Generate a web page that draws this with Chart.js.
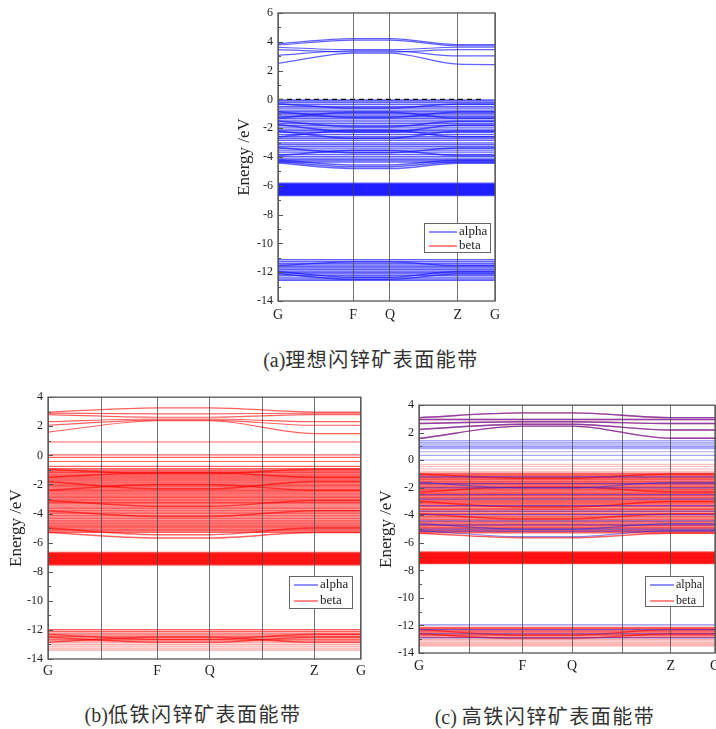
<!DOCTYPE html>
<html>
<head>
<meta charset="utf-8">
<script src="https://cdn.jsdelivr.net/npm/chart.js"></script>
<style>
  body { margin: 0; background: #fff; width: 716px; height: 729px; overflow: hidden; position: relative; }
  .box { position: absolute; }
  .cap { position: absolute; transform: translate(-50%, -50%); white-space: nowrap;
         font-family: "Noto Sans CJK SC", sans-serif; font-size: 20px; color: #333; letter-spacing: 1.5px; }
  .cap span { font-family: "Liberation Serif", serif; letter-spacing: 0; }
</style>
</head>
<body>
<div class="box" style="left:228px;top:0;width:300px;height:335px"><canvas id="bandA" width="300" height="335"></canvas></div>
<div class="box" style="left:0;top:385px;width:370px;height:300px"><canvas id="bandB" width="370" height="300"></canvas></div>
<div class="box" style="left:370px;top:393px;width:356px;height:290px"><canvas id="bandC" width="356" height="290"></canvas></div>

<div class="cap" style="left:371px;top:358px"><span>(a)</span>理想闪锌矿表面能带</div>
<div class="cap" style="left:193px;top:713px"><span>(b)</span>低铁闪锌矿表面能带</div>
<div class="cap" style="left:545px;top:715px"><span>(c) </span>高铁闪锌矿表面能带</div>

<script>
// k-path (x axis) and labels
const kLabelsA = ['G', 'F', 'Q', 'Z', 'G'];
const kPosA = [0, 0.346, 0.516, 0.829, 1];
const kLabelsBC = ['G', '', 'F', 'Q', '', 'Z', 'G'];
const kPosBC = [0, 0.171, 0.349, 0.517, 0.686, 0.851, 1];
const symPosBC = [0, 0.349, 0.517, 0.851, 1];   // G F Q Z G, where bands are read
const seriesNames = ['alpha', 'beta'];
const fermiA = 0;

// ---- (a) ideal surface, alpha only ----
// dispersive bands: energy at G, F, Q, Z, G
const condA = [
  [3.87, 4.22, 4.22, 3.8, 3.8],
  [3.78, 4.12, 4.12, 3.72, 3.72],
  [3.62, 3.45, 3.45, 3.62, 3.62],
  [3.45, 3.3, 3.3, 3.45, 3.45],
  [3.06, 3.38, 3.38, 3.02, 3.02],
  [2.5, 3.22, 3.22, 2.45, 2.42]
];
const valBandsA = [
  [-0.3, -0.6, -0.6, -0.32, -0.32],
  [-0.85, -1.25, -1.25, -0.88, -0.88],
  [-1.3, -0.9, -0.9, -1.3, -1.3],
  [-1.5, -1.9, -1.9, -1.52, -1.52],
  [-1.75, -2.25, -2.25, -1.78, -1.78],
  [-2.2, -2.7, -2.7, -2.22, -2.22],
  [-2.6, -2.15, -2.15, -2.6, -2.6],
  [-3.35, -3.7, -3.7, -3.38, -3.38],
  [-3.9, -3.55, -3.55, -3.9, -3.9],
  [-4.2, -4.55, -4.55, -4.22, -4.22],
  [-4.32, -4.68, -4.68, -4.34, -4.34],
  [-4.42, -4.8, -4.8, -4.44, -4.44]
];
// flat bands: one energy each
const valLevelsA = [-0.04, -0.12, -0.22, -0.35, -0.48, -0.6, -0.74, -0.86, -0.97, -1.08, -1.2, -1.31,
  -1.44, -1.56, -1.68, -1.8, -1.93, -2.06, -2.18, -2.3, -2.45, -2.58, -2.7, -2.84, -3.02, -3.12,
  -3.25, -3.38, -3.52, -3.66, -3.82, -3.96, -4.08, -4.18, -4.27, -4.36];
const dBlockA = [-5.86, -5.92, -5.98, -6.04, -6.1, -6.16, -6.22, -6.28, -6.34, -6.4, -6.46, -6.52, -6.58, -6.64];
const lowLevelsA = [-11.12, -11.25, -11.38, -11.5, -11.62, -11.72, -11.82, -11.92, -12.02, -12.12, -12.22, -12.34, -12.46, -12.56];
const lowBandsA = [
  [-11.55, -11.28, -11.28, -11.55, -11.55],
  [-11.95, -12.35, -12.35, -11.95, -11.95],
  [-12.1, -12.5, -12.5, -12.12, -12.12]
];

// ---- (b) low-Fe surface, beta ----
const condB = [
  [2.98, 3.27, 3.27, 2.98, 2.98],
  [2.9, 2.86, 2.86, 2.9, 2.9],
  [2.8, 2.62, 2.62, 2.8, 2.8],
  [2.32, 2.5, 2.5, 2.32, 2.32],
  [2.07, 2.42, 2.42, 2.07, 2.07],
  [1.6, 2.38, 2.38, 1.5, 1.5]
];
const gapLevelsB = [0.92, 0.03, -0.14, -0.42, -0.76];
const valLevelsB = [-0.92, -1.02, -1.12, -1.2, -1.3, -1.4, -1.48, -1.58, -1.68, -1.76, -1.86, -1.96,
  -2.05, -2.14, -2.24, -2.34, -2.44, -2.52, -2.62, -2.72, -2.82, -2.92, -3.02, -3.12, -3.22, -3.3,
  -3.42, -3.55, -3.66, -3.78, -3.9, -4.0, -4.12, -4.24, -4.36, -4.48, -4.58, -4.68, -4.78, -4.88,
  -4.98, -5.08, -5.18, -5.28];
const valBandsB = [
  [-0.95, -1.25, -1.25, -0.95, -0.95],
  [-1.5, -1.2, -1.2, -1.5, -1.5],
  [-1.8, -2.3, -2.3, -1.8, -1.8],
  [-2.4, -2.0, -2.0, -2.4, -2.4],
  [-3.1, -3.5, -3.5, -3.1, -3.1],
  [-3.8, -4.2, -4.2, -3.8, -3.8],
  [-5.0, -5.45, -5.45, -5.0, -5.0],
  [-5.3, -5.68, -5.68, -5.3, -5.3]
];
const dBlockB = [-6.72, -6.78, -6.84, -6.9, -6.96, -7.02, -7.08, -7.14, -7.2, -7.26, -7.32, -7.38, -7.44, -7.5];
const lowLevelsB = [-11.98, -12.1, -12.22, -12.34, -12.45, -12.55, -12.65, -12.76, -12.88, -13.0, -13.12, -13.25, -13.38];
const lowBandsB = [
  [-12.3, -12.65, -12.65, -12.3, -12.3],
  [-12.5, -12.85, -12.85, -12.5, -12.5],
  [-12.85, -12.5, -12.5, -12.85, -12.85]
];

// ---- (c) high-Fe surface, alpha + beta ----
const condC = [
  [3.1, 3.44, 3.44, 3.1, 3.1],
  [2.96, 2.96, 2.96, 2.96, 2.96],
  [2.67, 2.8, 2.8, 2.67, 2.67],
  [2.24, 2.62, 2.62, 2.2, 2.2],
  [1.58, 2.48, 2.48, 1.6, 1.6]
];
const alphaGapC = [1.42, 1.3, 1.2, 1.1, 1.0, 0.93, 0.84, 0.62, 0.36, 0.02];
const alphaValC = [-1.2, -1.7, -2.0, -2.5, -2.82, -3.3, -3.7, -3.95, -4.4, -4.7, -5.0, -5.15];
const alphaValBandsC = [
  [-1.6, -2.0, -2.0, -1.6, -1.6],
  [-4.6, -5.0, -5.0, -4.6, -4.6],
  [-5.1, -5.55, -5.55, -5.1, -5.1]
];
const alphaLowC = [-11.95, -12.3, -12.6, -12.9];
const betaGapC = [-0.3, -0.45, -0.62, -0.8];
const betaValC = [-0.95, -1.05, -1.14, -1.24, -1.33, -1.42, -1.52, -1.62, -1.71, -1.8, -1.9, -2.0,
  -2.1, -2.2, -2.3, -2.4, -2.48, -2.58, -2.68, -2.78, -2.88, -2.98, -3.08, -3.18, -3.28, -3.38,
  -3.5, -3.6, -3.72, -3.84, -3.96, -4.08, -4.2, -4.32, -4.44, -4.56, -4.66, -4.76, -4.86, -4.96,
  -5.06, -5.16, -5.26];
const betaValBandsC = [
  [-1.0, -1.3, -1.3, -1.0, -1.0],
  [-2.3, -1.95, -1.95, -2.3, -2.3],
  [-3.0, -3.4, -3.4, -3.0, -3.0],
  [-3.9, -4.25, -4.25, -3.9, -3.9],
  [-5.3, -5.62, -5.62, -5.3, -5.3]
];
const dBlockC = [-6.7, -6.76, -6.82, -6.88, -6.94, -7.0, -7.06, -7.12, -7.18, -7.24, -7.3, -7.36, -7.42, -7.47];
const betaLowC = [-12.15, -12.24, -12.34, -12.44, -12.54, -12.64, -12.74, -12.86, -13.0, -13.12, -13.25, -13.38, -13.48];
const betaLowBandsC = [
  [-12.3, -12.7, -12.7, -12.3, -12.3],
  [-12.6, -12.95, -12.95, -12.6, -12.6]
];

const SERIF = '"Liberation Serif", "DejaVu Serif", serif';
const BLUE = 'rgba(20,20,255,0.68)';
const RED = 'rgba(255,0,0,0.62)';
const RED_LIGHT = 'rgba(255,60,60,0.32)';
const RED_PALE = 'rgba(255,40,40,0.38)';
const BLUE_C = 'rgba(50,40,220,0.55)';
const BLUE_GAP = 'rgba(60,60,255,0.45)';
const W_DENSE = 1.5;

function lineSet(pos, vals, color, width) {
  return {
    data: pos.map((x, i) => ({ x: x, y: vals[i] })),
    borderColor: color, borderWidth: width || 1.2,
    pointRadius: 0, fill: false, cubicInterpolationMode: 'monotone'
  };
}
function flatSet(pos, e, color, width) {
  return lineSet(pos, pos.map(() => e), color, width);
}

// frame + inward ticks on the energy axis
const bandFrame = {
  id: 'bandFrame',
  afterDraw(chart) {
    const { ctx, chartArea: a } = chart;
    const y = chart.scales.y;
    ctx.save();
    ctx.strokeStyle = '#555';
    ctx.lineWidth = 1.3;
    ctx.strokeRect(a.left, a.top, a.right - a.left, a.bottom - a.top);
    ctx.lineWidth = 1;
    for (let v = Math.ceil(y.min); v <= y.max; v++) {
      const py = Math.round(y.getPixelForValue(v)) + 0.5;
      const len = v % 2 === 0 ? 5 : 3;
      ctx.beginPath(); ctx.moveTo(a.left, py); ctx.lineTo(a.left + len, py); ctx.stroke();
    }
    ctx.restore();
  }
};

const legendCols = ['rgb(110,110,255)', 'rgb(255,100,100)'];
const bandLegend = {
  id: 'bandLegend',
  afterDraw(chart, args, o) {
    if (!o || !o.box) return;
    const { ctx } = chart;
    const b = o.box;
    ctx.save();
    ctx.fillStyle = '#fff';
    ctx.fillRect(b.x, b.y, b.w, b.h);
    ctx.strokeStyle = '#666';
    ctx.lineWidth = 1;
    ctx.strokeRect(b.x + 0.5, b.y + 0.5, b.w, b.h);
    ctx.font = o.size + 'px ' + SERIF;
    ctx.textBaseline = 'middle';
    seriesNames.forEach((name, i) => {
      const ly = b.y + o.rows[i];
      ctx.fillStyle = legendCols[i];
      ctx.fillRect(b.x + 5, ly - 0.75, o.line - 5, 1.5);
      ctx.fillStyle = '#222';
      ctx.fillText(name, b.x + o.line + 2, ly);
    });
    ctx.restore();
  }
};

function makeChart(id, c) {
  return new Chart(document.getElementById(id), {
    type: 'line',
    data: { datasets: c.datasets },
    plugins: [bandFrame, bandLegend],
    options: {
      responsive: false,
      animation: false,
      events: [],
      layout: { padding: c.padding },
      plugins: { legend: { display: false }, tooltip: { enabled: false }, bandLegend: c.legend },
      scales: {
        x: {
          type: 'linear', min: 0, max: 1,
          afterBuildTicks: s => { s.ticks = c.kPos.map(v => ({ value: v })); },
          afterFit: s => { s.height = c.xHeight; },
          ticks: { autoSkip: false, maxRotation: 0, padding: c.xPad, color: '#222',
                   font: { family: SERIF, size: 14 }, callback: (v, i) => c.kLabels[i] },
          grid: { color: 'rgba(70,70,70,0.75)', lineWidth: 1, drawTicks: false, z: 1 },
          border: { display: false }
        },
        y: {
          min: -14, max: c.yMax,
          afterFit: s => { s.width = c.yWidth; },
          ticks: { stepSize: 2, padding: 5, color: '#222', font: { family: SERIF, size: 12 } },
          grid: { display: false, drawTicks: false },
          border: { display: false },
          title: { display: true, text: 'Energy /eV', color: '#222',
                   font: { family: SERIF, size: 17 }, padding: { top: 6, bottom: 0 } }
        }
      }
    }
  });
}

// (a)
const setsA = [];
setsA.push(Object.assign(lineSet([0, 0.95], [fermiA, fermiA], '#111', 1.4), { borderDash: [5, 4] }));
condA.forEach(b => setsA.push(lineSet(kPosA, b, BLUE)));
valBandsA.forEach(b => setsA.push(lineSet(kPosA, b, BLUE, W_DENSE)));
valLevelsA.forEach(e => setsA.push(flatSet(kPosA, e, BLUE, 1.35)));
dBlockA.forEach(e => setsA.push(flatSet(kPosA, e, BLUE, 2.5)));
lowLevelsA.forEach(e => setsA.push(flatSet(kPosA, e, BLUE, 1.3)));
lowBandsA.forEach(b => setsA.push(lineSet(kPosA, b, BLUE, 1.3)));

makeChart('bandA', {
  datasets: setsA, kPos: kPosA, kLabels: kLabelsA, yMax: 6,
  yWidth: 50, xHeight: 34, xPad: 6,
  padding: { top: 13, right: 33, bottom: 0, left: 0 },
  legend: { box: { x: 196, y: 223, w: 66, h: 29 }, rows: [9, 23], line: 33, size: 13 }
});

// (b)
const setsB = [];
condB.forEach(b => setsB.push(lineSet(symPosBC, b, RED)));
gapLevelsB.forEach(e => setsB.push(flatSet(symPosBC, e, RED)));
valBandsB.forEach(b => setsB.push(lineSet(symPosBC, b, RED, W_DENSE)));
valLevelsB.forEach(e => setsB.push(flatSet(symPosBC, e, RED, W_DENSE)));
dBlockB.forEach(e => setsB.push(flatSet(symPosBC, e, RED, 2.5)));
lowLevelsB.forEach((e, i) => setsB.push(flatSet(symPosBC, e, i < 8 ? RED : RED_PALE, 1.3)));
lowBandsB.forEach(b => setsB.push(lineSet(symPosBC, b, RED, 1.3)));

makeChart('bandB', {
  datasets: setsB, kPos: kPosBC, kLabels: kLabelsBC, yMax: 4,
  yWidth: 48, xHeight: 26, xPad: 4,
  padding: { top: 10, right: 7, bottom: 0, left: 0 },
  legend: { box: { x: 289, y: 191, w: 63, h: 32 }, rows: [9, 25], line: 29, size: 13 }
});

// (c): alpha first so it sits on top of beta
const setsC = [];
condC.forEach(b => setsC.push(lineSet(symPosBC, b, BLUE_C, 1.4)));
alphaGapC.forEach(e => setsC.push(flatSet(symPosBC, e, BLUE_GAP)));
alphaValC.forEach(e => setsC.push(flatSet(symPosBC, e, BLUE_C)));
alphaValBandsC.forEach(b => setsC.push(lineSet(symPosBC, b, BLUE_C)));
alphaLowC.forEach(e => setsC.push(flatSet(symPosBC, e, BLUE_C)));
condC.forEach(b => setsC.push(lineSet(symPosBC, b, RED, 1.4)));
betaGapC.forEach(e => setsC.push(flatSet(symPosBC, e, RED_LIGHT)));
betaValBandsC.forEach(b => setsC.push(lineSet(symPosBC, b, RED, W_DENSE)));
betaValC.forEach(e => setsC.push(flatSet(symPosBC, e, RED, W_DENSE)));
dBlockC.forEach(e => setsC.push(flatSet(symPosBC, e, RED, 2.5)));
betaLowC.forEach((e, i) => setsC.push(flatSet(symPosBC, e, i < 8 ? RED : RED_PALE, 1.4)));
betaLowBandsC.forEach(b => setsC.push(lineSet(symPosBC, b, RED, 1.4)));

makeChart('bandC', {
  datasets: setsC, kPos: kPosBC, kLabels: kLabelsBC, yMax: 4,
  yWidth: 49, xHeight: 30, xPad: 5,
  padding: { top: 12, right: 11, bottom: 0, left: 0 },
  legend: { box: { x: 275, y: 183, w: 58, h: 30 }, rows: [9, 25], line: 29, size: 12 }
});
</script>
</body>
</html>
